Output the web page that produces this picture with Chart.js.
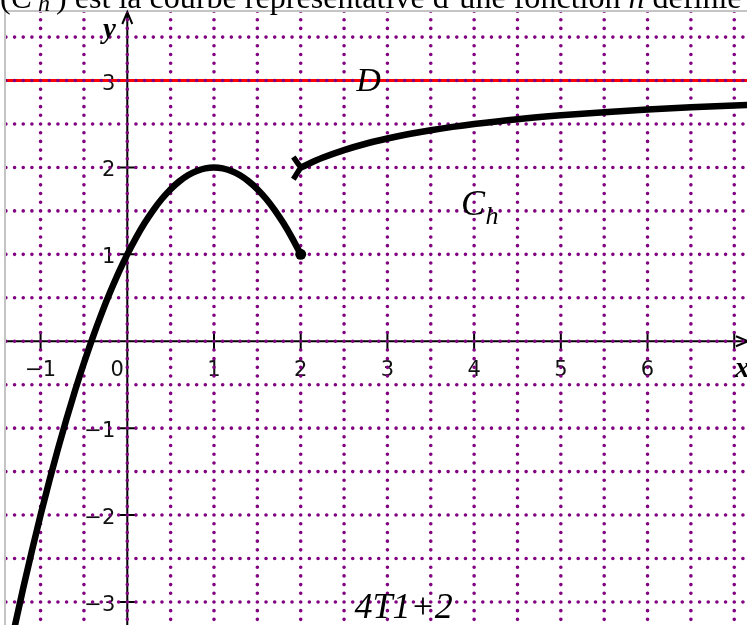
<!DOCTYPE html>
<html><head><meta charset="utf-8">
<script src="https://cdn.jsdelivr.net/npm/chart.js@4/dist/chart.umd.min.js"></script>
<style>html,body{margin:0;padding:0;background:#fff;overflow:hidden}#wrap{position:relative;width:747px;height:625px}</style>
</head><body><div id="wrap"><canvas id="c" width="747" height="625"></canvas></div>
<script>
// ---- data ----
const leftX = [-1.5,-1.4,-1.3,-1.2,-1.1,-1.0,-0.9,-0.8,-0.7,-0.6,-0.5,-0.4,-0.3,-0.2,-0.1,0,0.1,0.2,0.3,0.4,0.5,0.6,0.7,0.8,0.9,1.0,1.1,1.2,1.3,1.4,1.5,1.6,1.7,1.8,1.9,2.0];
const leftY = [-4.25,-3.76,-3.29,-2.84,-2.41,-2.0,-1.61,-1.24,-0.89,-0.56,-0.25,0.04,0.31,0.56,0.79,1.0,1.19,1.36,1.51,1.64,1.75,1.84,1.91,1.96,1.99,2.0,1.99,1.96,1.91,1.84,1.75,1.64,1.51,1.36,1.19,1.0];
const rightX = [2,2.25,2.5,2.75,3,3.25,3.5,3.75,4,4.5,5,5.5,6,6.5,7,7.25];
const rightY = [2.0,2.111,2.2,2.273,2.333,2.385,2.429,2.467,2.5,2.556,2.6,2.636,2.667,2.692,2.714,2.724];
const closedEndX = [2];
const closedEndY = [1];
const openEndX = [1.915, 2, 1.915];
const openEndY = [2.12, 2, 1.865];
const asymptoteX = [-1.4, 7.2];
const asymptoteY = [3, 3];
const xTickValues = [-1,0,1,2,3,4,5,6,7];
const xTickLabels = ['−1','0','1','2','3','4','5','6',''];
const yTickValues = [-3,-2,-1,1,2,3];
const yTickLabels = ['−3','−2','−1','1','2','3'];
const X_MIN = -1.468, X_MAX = 7.147, Y_MIN = -3.265, Y_MAX = 3.927;

const pts = (xs, ys) => xs.map((x, i) => ({x, y: ys[i]}));
const FRAME_L = 6, FRAME_T = 12;

function drawDots(chart){
  const {ctx, scales:{x:sx, y:sy}} = chart;
  ctx.save();
  ctx.beginPath(); ctx.rect(FRAME_L, FRAME_T, chart.width, chart.height); ctx.clip();
  ctx.fillStyle = '#800080';
  const r = 1.8;
  const dot = (px, py) => { ctx.moveTo(px + r, py); ctx.arc(px, py, r, 0, Math.PI * 2); };
  ctx.beginPath();
  for (let i = Math.ceil(X_MIN * 2); i <= Math.floor(X_MAX * 2); i++) {
    const px = sx.getPixelForValue(i / 2);
    for (let j = Math.ceil(Y_MIN * 10); j <= Math.floor(Y_MAX * 10); j++) dot(px, sy.getPixelForValue(j / 10));
  }
  for (let j = Math.ceil(Y_MIN * 2); j <= Math.floor(Y_MAX * 2); j++) {
    const py = sy.getPixelForValue(j / 2);
    for (let i = Math.ceil(X_MIN * 10); i <= Math.floor(X_MAX * 10); i++) dot(sx.getPixelForValue(i / 10), py);
  }
  ctx.fill();
  ctx.restore();
}

const decor = {
  id: 'decor',
  beforeDatasetsDraw(chart){
    const {ctx, scales:{x:sx, y:sy}} = chart;
    const ox = sx.getPixelForValue(0), oy = sy.getPixelForValue(0);
    ctx.save();
    ctx.strokeStyle = '#c4c4c4'; ctx.lineWidth = 2;
    ctx.beginPath(); ctx.moveTo(5, chart.height); ctx.lineTo(5, 11); ctx.lineTo(chart.width, 11); ctx.stroke();
    ctx.fillStyle = '#111'; ctx.font = '21px "DejaVu Sans"';
    ctx.textAlign = 'center'; ctx.textBaseline = 'alphabetic';
    xTickValues.forEach((v, i) => {
      const px = sx.getPixelForValue(v) + (v === 0 ? -10 : 0);
      ctx.fillText(xTickLabels[i], px, oy + 35);
    });
    ctx.textAlign = 'right';
    yTickValues.forEach((v, i) => ctx.fillText(yTickLabels[i], ox - 12, sy.getPixelForValue(v) + 9));
    ctx.strokeStyle = '#000'; ctx.lineWidth = 2;
    ctx.beginPath();
    ctx.moveTo(FRAME_L, oy); ctx.lineTo(chart.width, oy);
    ctx.moveTo(ox, chart.height); ctx.lineTo(ox, 12);
    xTickValues.forEach(v => { const px = sx.getPixelForValue(v); if (v !== 0) { ctx.moveTo(px, oy - 8); ctx.lineTo(px, oy + 8); } });
    yTickValues.forEach(v => { const py = sy.getPixelForValue(v); ctx.moveTo(ox - 8, py); ctx.lineTo(ox + 8, py); });
    ctx.moveTo(ox - 5, 24); ctx.lineTo(ox, 12); ctx.lineTo(ox + 5, 24);
    ctx.moveTo(736, oy - 5); ctx.lineTo(748, oy); ctx.lineTo(736, oy + 5);
    ctx.stroke();
    ctx.restore();
  },
  afterDatasetDraw(chart, args){
    if (args.meta && args.meta._dataset && args.meta._dataset.label === 'D') drawDots(chart);
  },
  afterDatasetsDraw(chart){
    const {ctx, scales:{x:sx, y:sy}} = chart;
    ctx.save();
    ctx.fillStyle = '#000'; ctx.textAlign = 'left'; ctx.textBaseline = 'alphabetic';
    const S = '"Liberation Serif", "DejaVu Serif", serif';
    ctx.font = 'italic 34px ' + S;
    ctx.fillText('D', sx.getPixelForValue(2.64), sy.getPixelForValue(2.88));
    ctx.font = 'italic 36px ' + S;
    ctx.fillText('C', sx.getPixelForValue(3.85), sy.getPixelForValue(1.45));
    ctx.font = 'italic 26px ' + S;
    ctx.fillText('h', sx.getPixelForValue(4.13), sy.getPixelForValue(1.35));
    ctx.font = 'italic 36px ' + S;
    ctx.fillText('4T1+2', sx.getPixelForValue(2.62), sy.getPixelForValue(-3.18));
    ctx.font = 'bold italic 29px ' + S;
    ctx.fillText('y', 103, 38);
    ctx.fillText('x', 735, sy.getPixelForValue(0) + 36);
    // cropped sentence at the top
    const parts = [['(', ''], ['C', 'italic '], [' h ', 'italic sub'], [') est la courbe représentative d’une fonction ', ''], ['h', 'italic '], [' définie', '']];
    const measure = size => parts.reduce((w, [t, st]) => {
      const sub = st.includes('sub');
      ctx.font = st.replace('sub', '') + (sub ? size * 0.75 : size) + 'px ' + S;
      return w + ctx.measureText(t).width;
    }, 0);
    const size = 27 * 742 / measure(27);
    let xPos = 0;
    parts.forEach(([t, st]) => {
      const sub = st.includes('sub');
      ctx.font = st.replace('sub', '') + (sub ? size * 0.75 : size) + 'px ' + S;
      ctx.fillText(t, xPos, sub ? 11 : 8);
      xPos += ctx.measureText(t).width;
    });
    ctx.restore();
  }
};

new Chart(document.getElementById('c'), {
  type: 'scatter',
  data: {
    datasets: [
      { label: 'Ch gauche', data: pts(leftX, leftY), showLine: true, borderColor: '#000', borderWidth: 6.5, pointRadius: 0, borderCapStyle: 'round', borderJoinStyle: 'round', cubicInterpolationMode: 'monotone', order: 1 },
      { label: 'Ch droite', data: pts(rightX, rightY), showLine: true, borderColor: '#000', borderWidth: 6.5, pointRadius: 0, borderCapStyle: 'butt', borderJoinStyle: 'round', cubicInterpolationMode: 'monotone', order: 1 },
      { label: 'borne fermée', data: pts(closedEndX, closedEndY), pointRadius: 5.5, pointBackgroundColor: '#000', pointBorderWidth: 0, order: 0 },
      { label: 'borne ouverte', data: pts(openEndX, openEndY), showLine: true, borderColor: '#000', borderWidth: 5.5, pointRadius: 0, borderJoinStyle: 'round', borderCapStyle: 'butt', order: 0 },
      { label: 'D', data: pts(asymptoteX, asymptoteY), showLine: true, borderColor: '#ff0000', borderWidth: 3, pointRadius: 0, order: 10 }
    ]
  },
  options: {
    responsive: false, animation: false, devicePixelRatio: 1, events: [],
    layout: { padding: 0, autoPadding: false },
    plugins: { legend: { display: false }, tooltip: { enabled: false } },
    scales: {
      x: { type: 'linear', min: X_MIN, max: X_MAX, display: false },
      y: { type: 'linear', min: Y_MIN, max: Y_MAX, display: false }
    }
  },
  plugins: [decor]
});
</script></body></html>
